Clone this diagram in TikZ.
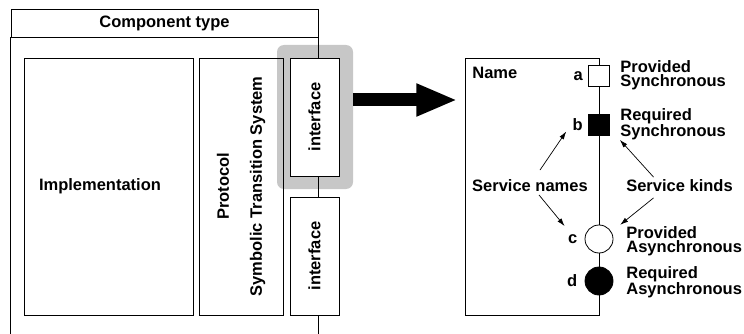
\documentclass[tikz,border=0pt]{standalone}
\usepackage{fontspec}
\setmainfont{Liberation Sans}
\usetikzlibrary{arrows.meta,positioning}

\begin{document}
\begin{tikzpicture}
	[x=1pt, y=-1pt, line width=0.8pt,
	every node/.style={font=\bfseries\fontsize{16.5}{13}\selectfont,inner sep=0pt},
	tall/.style={draw,rectangle,minimum height=257pt},
	iface/.style={draw,fill=white,rotate=90,minimum width=118pt,minimum height=49pt},
	port/.style={draw,rectangle,minimum size=21pt},
	event/.style={draw,circle,minimum size=28pt},
	kind/.style={align=left,anchor=west,font=\bfseries\fontsize{16.5}{14}\selectfont},
	pointer/.style={-{Latex[length=8pt,width=5pt]}, line width=0.7pt}]
	\useasboundingbox (0,0) rectangle (744,334);
	% component type
	\node (hl) [fill=black!22,rounded corners=7pt,minimum width=76pt,minimum height=144pt] at (315,117) {};
	\node (title) [draw,minimum width=307pt,minimum height=28pt] at (164.5,23) {Component type};
	\draw (title.south west) -- ++(0,297);
	\draw (title.south east) -- ++(0,297);
	\node (impl) [tall,text width=139pt,inner xsep=15pt,align=left] at (108.5,186.5) {Implementation};
	\node (proto) [tall,rotate=90,minimum width=257pt,minimum height=84pt,align=center] at (241,186.5)
	{Protocol\\[20pt]Symbolic Transition System};
	\node (if1) [iface] at (314.5,117) {interface};
	\node (if2) [iface] at (314.5,256) {interface};
	\draw [line width=13pt,-{Triangle[length=41pt,width=30pt]}] ([yshift=17pt]hl.east) -- ++(104,0);
	% zoomed interface
	\node (name) [tall,minimum width=134pt] at (532,186.5) {};
	\node (nm) [anchor=west] at (472,73) {Name};
	\node (pa) [port,fill=white] at (599,76) {};
	\node (pb) [port,fill=black] at (599,125) {};
	\node (pc) [event,fill=white] at (599,239) {};
	\node (pd) [event,fill=black] at (599,281) {};
	\node (la) [left=5pt of pa] {a};
	\node (lb) [left=5pt of pb] {b};
	\node (lc) [left=7pt of pc] {c};
	\node (ld) [left=7pt of pd] {d};
	\node (ka) [kind] at (620,75) {Provided\\Synchronous};
	\node (kb) [kind] at (620,124) {Required\\Synchronous};
	\node (kc) [kind] at (626,241) {Provided\\Asynchronous};
	\node (kd) [kind] at (626,282) {Required\\Asynchronous};
	\node (sn) at (530,185.5) {Service names};
	\node (sk) at (679.5,185.5) {Service kinds};
	\draw [pointer] ([shift={(10,-9)}]sn.north) -- ([xshift=-6pt]lb.south west);
	\draw [pointer] ([shift={(9,3)}]sn.south) -- ([shift={(-3,-8)}]lc.north west);
	\draw [pointer] ([shift={(-26,-2)}]sk.north) -- ([shift={(10,4)}]pb.south east);
	\draw [pointer] ([shift={(-26,6)}]sk.south) -- ([shift={(11,-4)}]pc.north east);
\end{tikzpicture}
\end{document}
